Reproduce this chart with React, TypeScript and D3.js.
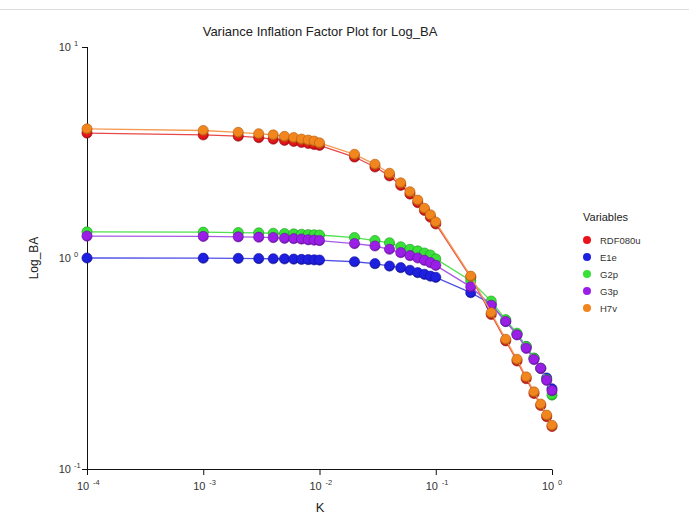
import React from "react";
import * as d3 from "d3";

// K values (ridge parameter)
const kValues = [
  0.0001, 0.001, 0.002, 0.003, 0.004, 0.005, 0.006, 0.007, 0.008, 0.009, 0.01,
  0.02, 0.03, 0.04, 0.05, 0.06, 0.07, 0.08, 0.09, 0.1,
  0.2, 0.3, 0.4, 0.5, 0.6, 0.7, 0.8, 0.9, 1.0,
];

const rdf080u = [
  3.91, 3.83, 3.78, 3.72, 3.66, 3.61, 3.57, 3.53, 3.49, 3.45, 3.42,
  3.01, 2.7, 2.45, 2.21, 2.01, 1.83, 1.68, 1.56, 1.45,
  0.81, 0.54, 0.405, 0.325, 0.268, 0.228, 0.2, 0.177, 0.159,
];
const e1e = [
  1.0, 0.998, 0.996, 0.994, 0.992, 0.99, 0.988, 0.985, 0.982, 0.98, 0.978,
  0.96, 0.94, 0.916, 0.9, 0.875, 0.852, 0.837, 0.82, 0.81,
  0.685, 0.605, 0.5, 0.435, 0.38, 0.335, 0.3, 0.27, 0.24,
];
const g2p = [
  1.33, 1.325, 1.32, 1.315, 1.31, 1.305, 1.3, 1.295, 1.29, 1.288, 1.285,
  1.25, 1.21, 1.18, 1.13, 1.1, 1.08, 1.056, 1.033, 0.99,
  0.78, 0.625, 0.51, 0.44, 0.38, 0.335, 0.3, 0.265, 0.224,
];
const g3p = [
  1.27, 1.265, 1.26, 1.255, 1.25, 1.24, 1.235, 1.23, 1.22, 1.215, 1.21,
  1.17, 1.14, 1.1, 1.06, 1.026, 1.0, 0.975, 0.95, 0.923,
  0.73, 0.597, 0.5, 0.432, 0.373, 0.33, 0.3, 0.263, 0.235,
];
const h7v = [
  4.09, 4.02, 3.94, 3.88, 3.83, 3.77, 3.72, 3.66, 3.62, 3.58, 3.51,
  3.1, 2.78, 2.52, 2.27, 2.06, 1.88, 1.72, 1.6, 1.48,
  0.82, 0.55, 0.412, 0.331, 0.273, 0.232, 0.203, 0.18, 0.161,
];

const seriesNames = ["RDF080u", "E1e", "G2p", "G3p", "H7v"];
const seriesValues = [rdf080u, e1e, g2p, g3p, h7v];
const fills = ["#e8141c", "#1f1fe0", "#38e038", "#9a1ee6", "#f2861e"];
const edges = ["#a00c10", "#10109a", "#1f9a1f", "#65109e", "#b35a0c"];
const lineColors = ["#e84848", "#5050e6", "#50e050", "#a85ae6", "#f59a52"];

const xTicks = [-4, -3, -2, -1, 0];
const yTicks = [1, 0, -1];

const W = 689;
const H = 525;
const font = "'Liberation Sans', Arial, sans-serif";

export default function App() {
  const x = d3.scaleLog().domain([0.0001, 1]).range([87, 552]);
  const y = d3.scaleLog().domain([0.1, 10]).range([469, 47]);

  const line = d3
    .line<number>()
    .x((_, i) => x(kValues[i]))
    .y((d) => y(d));

  return (
    <svg
      width={W}
      height={H}
      style={{ position: "absolute", left: 0, top: 0, background: "#fff" }}
      fontFamily={font}
    >
      <defs>
        {fills.map((c, i) => (
          <radialGradient key={i} id={"g" + i} cx="45%" cy="35%" r="65%">
            <stop offset="0%" stopColor={c} />
            <stop offset="70%" stopColor={c} />
            <stop offset="100%" stopColor={edges[i]} />
          </radialGradient>
        ))}
      </defs>
      <line x1={0} x2={W} y1={9.5} y2={9.5} stroke="#dedede" />

      <text x={320} y={36} textAnchor="middle" fontSize={13} fill="#222">
        Variance Inflation Factor Plot for Log_BA
      </text>

      {/* axes */}
      <line x1={87.5} x2={87.5} y1={y(10)} y2={y(0.1)} stroke="#111" />
      <line x1={x(0.0001)} x2={x(1)} y1={469.5} y2={469.5} stroke="#111" />
      {yTicks.map((p) => (
        <g key={"y" + p}>
          <line x1={82} x2={87.5} y1={y(Math.pow(10, p)) + 0.5} y2={y(Math.pow(10, p)) + 0.5} stroke="#111" />
          <text x={71} y={y(Math.pow(10, p)) + 4} textAnchor="end" fontSize={11} fill="#333">
            10
          </text>
          <text x={74} y={y(Math.pow(10, p)) - 1} textAnchor="start" fontSize={7.5} fill="#333">
            {p}
          </text>
        </g>
      ))}
      {xTicks.map((p) => (
        <g key={"x" + p}>
          <line x1={x(Math.pow(10, p)) + 0.5} x2={x(Math.pow(10, p)) + 0.5} y1={469.5} y2={475} stroke="#111" />
          <text x={x(Math.pow(10, p)) - 4} y={490} textAnchor="middle" fontSize={11} fill="#333">
            10
          </text>
          <text x={x(Math.pow(10, p)) + 6} y={485} textAnchor="start" fontSize={7.5} fill="#333">
            {p}
          </text>
        </g>
      ))}
      <text x={320} y={512} textAnchor="middle" fontSize={13} fill="#222">
        K
      </text>
      <text
        transform={`translate(38,${y(1)}) rotate(-90)`}
        textAnchor="middle"
        fontSize={12}
        fill="#222"
      >
        Log_BA
      </text>

      {/* series */}
      {seriesValues.map((vals, si) => (
        <g key={seriesNames[si]}>
          <path d={line(vals) || ""} fill="none" stroke={lineColors[si]} strokeWidth={1.3} />
          {vals.map((v, i) => (
            <circle
              key={i}
              cx={x(kValues[i])}
              cy={y(v)}
              r={5.1}
              fill={`url(#g${si})`}
              stroke={edges[si]}
              strokeWidth={0.6}
            />
          ))}
        </g>
      ))}

      {/* legend */}
      <text x={583} y={221} fontSize={11} fill="#222">
        Variables
      </text>
      {seriesNames.map((n, i) => (
        <g key={n}>
          <circle cx={587} cy={240 + i * 17} r={4} fill={fills[i]} />
          <text x={600} y={244 + i * 17} fontSize={9.5} fill="#333">
            {n}
          </text>
        </g>
      ))}
    </svg>
  );
}
